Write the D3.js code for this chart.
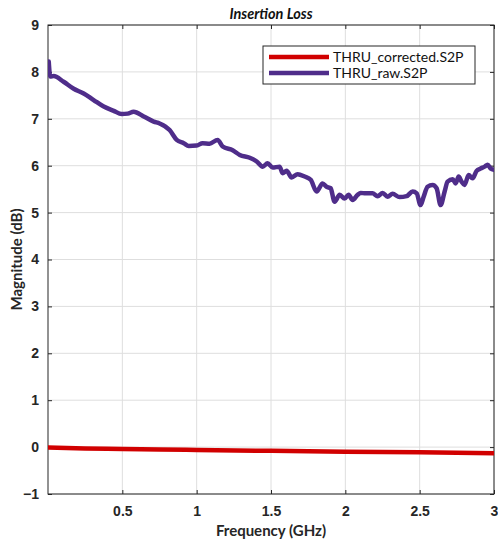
<!DOCTYPE html>
<html>
<head>
<meta charset="utf-8">
<script src="https://cdn.jsdelivr.net/npm/d3@7"></script>
<style>
  html, body { margin: 0; padding: 0; background: #fff; }
  svg { display: block; font-family: Lato, "Open Sans", sans-serif; }
</style>
</head>
<body>
<svg id="chart" width="498" height="544"></svg>
<script>
// Insertion loss of a THRU standard, raw vs. de-embedded
const chartTitle = "Insertion Loss";
const xLabel = "Frequency (GHz)";
const yLabel = "Magnitude (dB)";
const seriesNames = ["THRU_corrected.S2P", "THRU_raw.S2P"];
const seriesColors = ["#d10000", "#4f2d8a"];

const xTicks = [0.5, 1, 1.5, 2, 2.5, 3];
const yTicks = [-1, 0, 1, 2, 3, 4, 5, 6, 7, 8, 9];

// corrected trace (GHz, dB)
const correctedFreq = [0.0, 0.25, 0.5, 0.75, 1.0, 1.5, 2.0, 2.5, 3.0];
const correctedDb   = [-0.01, -0.03, -0.04, -0.05, -0.06, -0.08, -0.10, -0.11, -0.13];

// raw trace (GHz, dB)
const rawFreq = [0.005, 0.015, 0.038, 0.105, 0.173, 0.240, 0.307, 0.375, 0.442, 0.496,
  0.536, 0.576, 0.644, 0.711, 0.751, 0.818, 0.866, 0.913, 0.947, 1.000,
  1.040, 1.087, 1.141, 1.175, 1.242, 1.290, 1.357, 1.404, 1.444, 1.477,
  1.511, 1.558, 1.578, 1.605, 1.639, 1.679, 1.726, 1.767, 1.807, 1.847,
  1.874, 1.901, 1.928, 1.962, 1.995, 2.022, 2.049, 2.083, 2.103, 2.136,
  2.183, 2.217, 2.251, 2.284, 2.318, 2.365, 2.412, 2.453, 2.480, 2.506,
  2.527, 2.553, 2.587, 2.614, 2.641, 2.668, 2.688, 2.722, 2.742, 2.762,
  2.782, 2.802, 2.829, 2.856, 2.883, 2.910, 2.937, 2.957, 2.977, 3.000];
const rawDb = [8.22, 7.90, 7.91, 7.79, 7.64, 7.54, 7.40, 7.26, 7.17, 7.10,
  7.11, 7.15, 7.05, 6.94, 6.90, 6.76, 6.55, 6.48, 6.42, 6.43,
  6.48, 6.47, 6.55, 6.41, 6.33, 6.23, 6.17, 6.09, 5.98, 6.05,
  5.96, 5.98, 5.84, 5.89, 5.75, 5.82, 5.77, 5.70, 5.45, 5.62,
  5.55, 5.52, 5.23, 5.38, 5.30, 5.38, 5.27, 5.38, 5.42, 5.41,
  5.41, 5.35, 5.42, 5.34, 5.40, 5.33, 5.35, 5.45, 5.41, 5.16,
  5.34, 5.55, 5.59, 5.52, 5.16, 5.45, 5.66, 5.71, 5.62, 5.77,
  5.66, 5.59, 5.80, 5.73, 5.89, 5.94, 5.98, 6.02, 5.94, 5.91];

const margin = { top: 25, right: 4, bottom: 50, left: 48 };
const W = 498, H = 544;
const iw = W - margin.left - margin.right;
const ih = H - margin.top - margin.bottom;

const svg = d3.select("#chart");
const g = svg.append("g").attr("transform", `translate(${margin.left},${margin.top})`);

const x = d3.scaleLinear().domain([0, 3]).range([0, iw]);
const y = d3.scaleLinear().domain([-1, 9]).range([ih, 0]);

// grid
g.append("g").selectAll("line").data(xTicks).join("line")
  .attr("x1", d => x(d)).attr("x2", d => x(d)).attr("y1", 0).attr("y2", ih)
  .attr("stroke", "#dedede").attr("stroke-width", 1);
g.append("g").selectAll("line").data(yTicks).join("line")
  .attr("y1", d => y(d)).attr("y2", d => y(d)).attr("x1", 0).attr("x2", iw)
  .attr("stroke", "#dedede").attr("stroke-width", 1);

// axes with inward ticks
const tickStyle = sel => {
  sel.select(".domain").remove();
  sel.selectAll(".tick line").attr("stroke", "#262626");
  sel.selectAll(".tick text").attr("fill", "#262626")
    .style("font-size", "14px").style("font-weight", "bold");
};
g.append("g").attr("transform", `translate(0,${ih})`)
  .call(d3.axisBottom(x).tickValues(xTicks).tickFormat(d3.format("~g")).tickSize(-4).tickPadding(12))
  .call(tickStyle);
g.append("g")
  .call(d3.axisLeft(y).tickValues(yTicks).tickFormat(d3.format("~g")).tickSize(-4).tickPadding(9))
  .call(tickStyle);
g.append("g")
  .call(d3.axisTop(x).tickValues(xTicks).tickFormat("").tickSize(-4))
  .call(tickStyle);
g.append("g").attr("transform", `translate(${iw},0)`)
  .call(d3.axisRight(y).tickValues(yTicks).tickFormat("").tickSize(-4))
  .call(tickStyle);

// frame
g.append("rect").attr("width", iw).attr("height", ih)
  .attr("fill", "none").attr("stroke", "#262626").attr("stroke-width", 1);

// traces
const clip = svg.append("clipPath").attr("id", "plotclip")
  .append("rect").attr("width", iw).attr("height", ih);
const line = d3.line().x(d => x(d[0])).y(d => y(d[1])).curve(d3.curveMonotoneX);
const traces = [
  d3.zip(correctedFreq, correctedDb),
  d3.zip(rawFreq, rawDb)
];
g.append("g").attr("clip-path", "url(#plotclip)")
  .selectAll("path").data(traces).join("path")
  .attr("d", line)
  .attr("fill", "none")
  .attr("stroke", (d, i) => seriesColors[i])
  .attr("stroke-width", 4.5)
  .attr("stroke-linejoin", "round")
  .attr("stroke-linecap", "round");

// title and axis labels
svg.append("text").attr("x", margin.left + iw / 2).attr("y", 19)
  .attr("text-anchor", "middle").attr("fill", "#111")
  .style("font-size", "14.5px").style("font-weight", "bold").style("font-style", "italic")
  .text(chartTitle);
svg.append("text").attr("x", margin.left + iw / 2).attr("y", 536)
  .attr("text-anchor", "middle").attr("fill", "#262626")
  .style("font-size", "15px").style("font-weight", "bold")
  .text(xLabel);
svg.append("text").attr("transform", `translate(22,${margin.top + ih / 2}) rotate(-90)`)
  .attr("text-anchor", "middle").attr("fill", "#262626")
  .style("font-size", "15px").style("font-weight", "bold")
  .text(yLabel);

// legend
const lg = svg.append("g").attr("transform", "translate(263,46)");
lg.append("rect").attr("width", 212).attr("height", 38)
  .attr("fill", "#fff").attr("stroke", "#262626").attr("stroke-width", 1);
seriesNames.forEach((name, i) => {
  const ly = 11 + i * 16;
  lg.append("line").attr("x1", 6).attr("x2", 66).attr("y1", ly).attr("y2", ly)
    .attr("stroke", seriesColors[i]).attr("stroke-width", 4.5);
  lg.append("text").attr("x", 70).attr("y", ly + 5).attr("fill", "#111")
    .style("font-size", "14px").text(name);
});
</script>
</body>
</html>
